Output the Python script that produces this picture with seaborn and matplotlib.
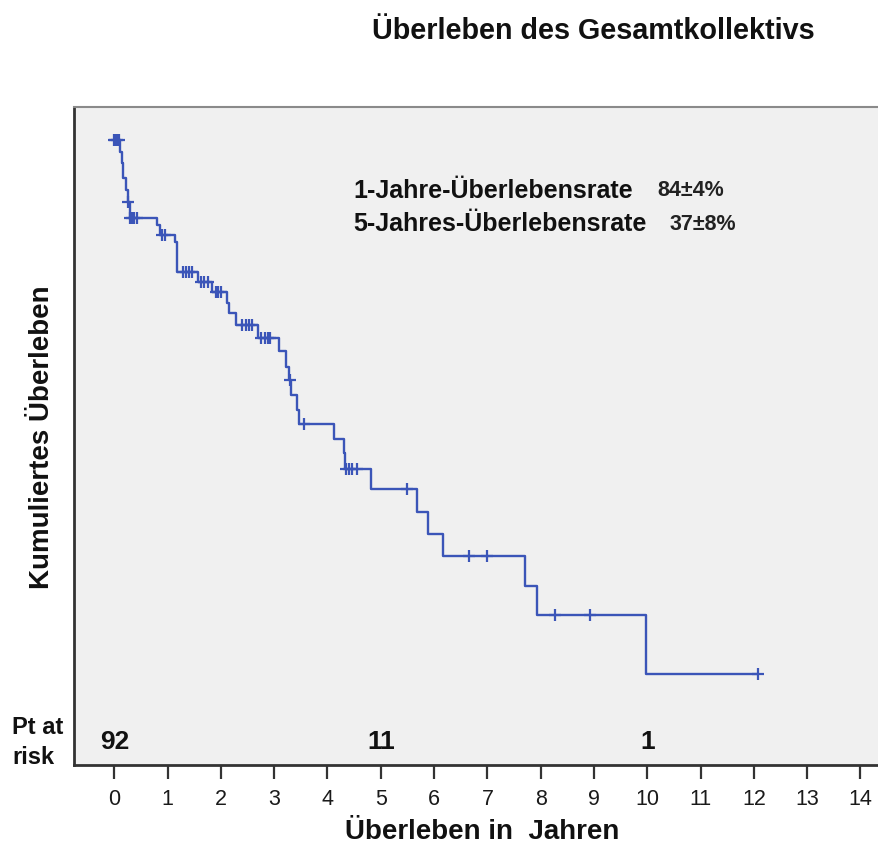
import numpy as np
import pandas as pd
import matplotlib
matplotlib.use("Agg")
import matplotlib.pyplot as plt
import seaborn as sns

# ---------------- data ----------------
step_times = [0.0, 0.104, 0.142, 0.160, 0.217, 0.255, 0.292, 0.802, 0.858, 1.142,
              1.179, 1.575, 1.840, 2.123, 2.160, 2.274, 2.689, 3.085, 3.217, 3.274,
              3.311, 3.425, 3.462, 4.123, 4.311, 4.330, 4.821, 5.670, 5.877, 6.160,
              7.708, 7.934, 9.972, 12.07]
step_surv = [1.000, 0.978, 0.958, 0.931, 0.910, 0.887, 0.859, 0.846, 0.828, 0.816,
             0.762, 0.744, 0.726, 0.706, 0.688, 0.667, 0.643, 0.620, 0.591, 0.568,
             0.541, 0.514, 0.489, 0.462, 0.437, 0.407, 0.371, 0.330, 0.290, 0.251,
             0.197, 0.145, 0.039, 0.039]
censor_times = [0.0, 0.02, 0.05, 0.08, 0.26, 0.30, 0.33, 0.37, 0.43, 0.90, 0.95,
                1.29, 1.35, 1.41, 1.46, 1.63, 1.69, 1.75, 1.90, 1.95, 2.01,
                2.40, 2.47, 2.53, 2.59, 2.76, 2.82, 2.88, 2.93, 3.29, 3.56,
                4.35, 4.41, 4.46, 4.56, 5.50, 6.65, 6.99, 8.27, 8.92, 12.07]
risk_times = [0, 5, 10]
risk_counts = ["92", "11", "1"]
x_ticks = list(range(0, 15))

title = "Überleben des Gesamtkollektivs"
x_label = "Überleben in  Jahren"
y_label = "Kumuliertes Überleben"
rate_labels = ["1-Jahre-Überlebensrate", "5-Jahres-Überlebensrate"]
rate_values = ["84±4%", "37±8%"]

# ---------------- figure ----------------
sns.set_theme(style="white")
plt.rcParams['font.family'] = ['Liberation Sans', 'DejaVu Sans']
narrow = ['Liberation Sans Narrow', 'Liberation Sans']

W, H = 879, 848
fig = plt.figure(figsize=(W / 100, H / 100), dpi=100)
fig.patch.set_facecolor("white")

def fx(px):
    return px / W

def fy(py):
    return 1 - py / H

ax = fig.add_axes([fx(74), fy(765), 1 - fx(74), fy(107) - fy(765)])
ax.set_facecolor("#f0f0f0")

color = "#3b55b8"
steps = pd.DataFrame({"t": step_times, "s": step_surv})
sns.lineplot(data=steps, x="t", y="s", drawstyle="steps-post", estimator=None,
             sort=False, color=color, linewidth=1.7, ax=ax)

st = np.asarray(step_times)
ss = np.asarray(step_surv)
ct = np.asarray(censor_times)
idx = np.searchsorted(st, ct, side="right") - 1
cens = pd.DataFrame({"t": ct, "s": ss[idx]})
sns.scatterplot(data=cens, x="t", y="s", marker="+", s=75, linewidth=1.6,
                color=color, ax=ax, zorder=3)

x_px0, x_scale = 114.3, 53.3
y_px0, y_scale = 695.8, 556.3
ax.set_xlim((74 - x_px0) / x_scale, (879 - x_px0) / x_scale)
ax.set_ylim((y_px0 - 765) / y_scale, (y_px0 - 107) / y_scale)

ax.set_xticks(x_ticks)
ax.set_xticklabels([str(v) for v in x_ticks], fontfamily=narrow, fontsize=15.5)
ax.set_yticks([])
ax.tick_params(axis="x", direction="out", length=10, width=1.6, color="#333333",
               pad=7, labelcolor="#1a1a1a", bottom=True)
ax.set_xlabel("")
ax.set_ylabel("")

for side in ["left", "bottom"]:
    ax.spines[side].set_color("#333333")
    ax.spines[side].set_linewidth(2.0)
ax.spines["top"].set_color("#8a8a8a")
ax.spines["top"].set_linewidth(1.5)
ax.spines["right"].set_visible(False)

# risk numbers
for t, c in zip(risk_times, risk_counts):
    ax.text(t, (y_px0 - 742) / y_scale, c, ha="center", va="center",
            fontsize=19, fontweight="bold", color="#111111", fontfamily=narrow)

# texts
fig.text(fx(593), fy(31), title, ha="center", va="center", fontsize=20.7,
         fontweight="bold", color="#111111")
fig.text(fx(482), fy(832), x_label, ha="center", va="center", fontsize=20,
         fontweight="bold", color="#111111")
fig.text(fx(42), fy(437), y_label, ha="center", va="center", rotation=90,
         fontsize=20, fontweight="bold", color="#111111")
fig.text(fx(12), fy(728), "Pt at", ha="left", va="center", fontsize=17,
         fontweight="bold", color="#111111")
fig.text(fx(12), fy(757), "risk", ha="left", va="center", fontsize=17,
         fontweight="bold", color="#111111")

fig.text(fx(353), fy(191), rate_labels[0], ha="left", va="center", fontsize=18,
         fontweight="bold", color="#111111")
fig.text(fx(353), fy(224), rate_labels[1], ha="left", va="center", fontsize=18,
         fontweight="bold", color="#111111")
fig.text(fx(657), fy(191), rate_values[0], ha="left", va="center", fontsize=15.5,
         fontweight="bold", color="#222222")
fig.text(fx(670), fy(224), rate_values[1], ha="left", va="center", fontsize=15.5,
         fontweight="bold", color="#222222")

fig.savefig("out.png", dpi=100)
